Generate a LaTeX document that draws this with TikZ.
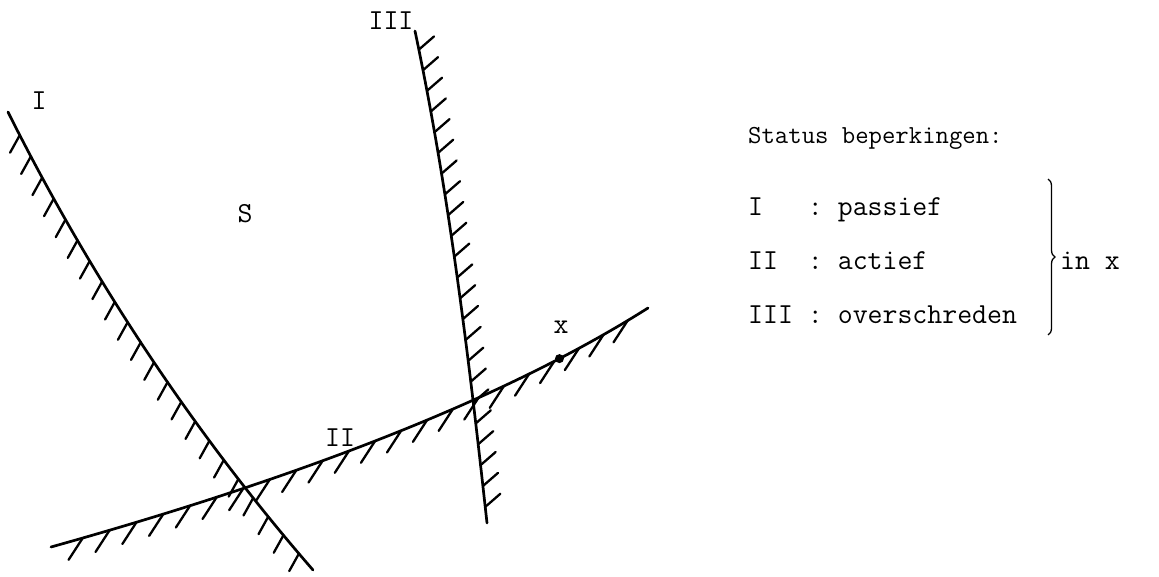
\documentclass[tikz,border=0pt]{standalone}
\usetikzlibrary{decorations.markings,decorations.pathreplacing}
\begin{document}
\begin{tikzpicture}[x=1pt,y=-1pt,
  bound/.style={line width=2.7pt, line cap=round},
  hatchmark/.style={line width=2.3pt, line cap=round},
  hatchI/.style={postaction={decorate, decoration={markings,
     mark=between positions 26pt and -6pt step 24pt with {\pgftransformresetnontranslations
       \draw[hatchmark] (0,0) -- (-119:20pt);}}}},
  hatchII/.style={postaction={decorate, decoration={markings,
     mark=between positions 33pt and -9pt step 28pt with {\pgftransformresetnontranslations
       \draw[hatchmark] (0,0) -- (-123:26pt);}}}},
  hatchIII/.style={postaction={decorate, decoration={markings,
     mark=between positions 19pt and -8pt step 21pt with {\pgftransformresetnontranslations
       \draw[hatchmark] (0,0) -- (41:20pt);}}}},
  lbl/.style={font=\fontsize{29}{34}\selectfont\ttfamily, inner sep=0pt, anchor=base},
  txt/.style={font=\fontsize{29}{34}\selectfont\ttfamily, inner sep=0pt, anchor=base west},
  headtxt/.style={font=\fontsize{26}{31}\selectfont\ttfamily, inner sep=0pt, anchor=base west}
]
\useasboundingbox (0,0) rectangle (1159,576);

% constraint I
\draw[bound, hatchI] (8,112) .. controls (90,276) and (193,432) .. (313,570);
% constraint II
\draw[bound, hatchII] (51,547) .. controls (244,493) and (479,415) .. (648,308)
  coordinate[pos=0.835] (xp);
% constraint III
\draw[bound, hatchIII] (415,31) .. controls (449,192) and (469,359) .. (487,523);

\fill (xp) circle (4.5pt);

\node[lbl] (lI) at (39,109) {I};
\node[lbl] (lIII) at (391,29) {III};
\node[lbl] (lS) at (245,222) {S};
\node[lbl] (lII) at (340,446) {II};
\node[lbl] (lx) at (561,333) {x};

\node[headtxt] (status) at (748,143) {Status beperkingen:};
\node[txt] (r1) at (748,215) {I\ \ \ : passief};
\node[txt] (r2) at (748,269) {II\ \ : actief};
\node[txt] (r3) at (748,323) {III : overschreden};
\coordinate (bt) at (1048,179);
\coordinate (bb) at (1048,335);
\draw[decorate, decoration={brace, amplitude=7pt}, line width=1.3pt] (bt) -- (bb);
\node[txt] (inx) at (1060,269) {in x};
\end{tikzpicture}
\end{document}
